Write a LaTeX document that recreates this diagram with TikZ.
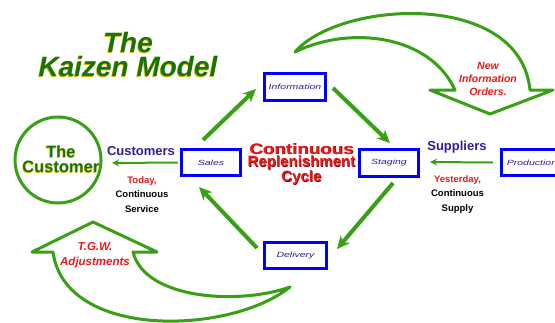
\documentclass[tikz,border=0pt]{standalone}
\usepackage{fontspec}
\setmainfont{Liberation Sans}
\usetikzlibrary{arrows.meta}

\definecolor{kgreen}{RGB}{55,160,20}
\definecolor{titlegreen}{RGB}{25,115,5}
\definecolor{shadowyellow}{RGB}{215,180,0}
\definecolor{kblue}{RGB}{0,0,255}
\definecolor{navy}{RGB}{45,30,150}
\definecolor{kred}{RGB}{235,25,25}
\definecolor{darkred}{RGB}{120,10,10}

% wide italic caption inside the process boxes
\newcommand{\boxtxt}[1]{\scalebox{1.4}[1]{#1}}

\begin{document}
\begin{tikzpicture}[x=1pt,y=-1pt,
  procbox/.style={draw=kblue, line width=3.2pt, fill=white, inner sep=0pt,
    font=\fontsize{7.5}{9}\selectfont\itshape, text=navy},
  cycarrow/.style={draw=kgreen, line width=4pt, -{Stealth[length=13pt,width=12pt]}},
  flowarrow/.style={draw=kgreen, line width=2pt, -{Stealth[length=7pt,width=7pt]}},
  blockarrow/.style={draw=kgreen, line width=3pt, fill=white, line join=round},
  titletext/.style={inner sep=0pt, align=center,
    font=\fontsize{28}{24}\selectfont\bfseries\itshape},
  custtext/.style={inner sep=0pt, align=center,
    font=\fontsize{16.5}{15}\selectfont\bfseries},
  grouplabel/.style={inner sep=0pt, text=navy, font=\fontsize{13}{15}\selectfont\bfseries},
  notetext/.style={inner sep=0pt, align=center, font=\fontsize{9.5}{14.5}\selectfont\bfseries},
  redlabel/.style={inner sep=0pt, align=center, text=kred, font=\bfseries\itshape},
  cycletext/.style={inner sep=0pt, align=center,
    font=\fontsize{15}{12.5}\selectfont\bfseries}
]
\useasboundingbox (0,0) rectangle (555,322);

% title with its yellow drop shadow
\node[titletext, text=shadowyellow] (titleshadow) at (127.3,55.5) {The\\Kaizen Model};
\node[titletext, text=titlegreen] (title) at (128,54.8) {The\\Kaizen Model};

% the customer
\node[draw=kgreen, line width=3pt, circle, minimum size=86pt, inner sep=0pt] (customer) at (58,160) {};
\node[custtext, text=shadowyellow] (custshadow) at (60.4,160.1) {The\\Customer};
\node[custtext, text=titlegreen] (custname) at (61,159.5) {The\\Customer};

% process boxes
\node[procbox, minimum width=59pt, minimum height=26pt] (sales) at (211,162.5) {\boxtxt{Sales}};
\node[procbox, minimum width=61pt, minimum height=27pt] (info) at (295,87) {\boxtxt{Information}};
\node[procbox, minimum width=59pt, minimum height=27pt] (staging) at (389,163) {\boxtxt{Staging}};
\node[procbox, minimum width=62pt, minimum height=26pt] (delivery) at (295.5,255.5) {\boxtxt{Delivery}};
\node[procbox, minimum width=61pt, minimum height=26pt] (prod) at (532,162.5) {\boxtxt{Production}};

% replenishment cycle
\coordinate (c1s) at (203,140);  \coordinate (c1e) at (256,89);
\coordinate (c2s) at (333,88);   \coordinate (c2e) at (390,143);
\coordinate (c3s) at (393,183);  \coordinate (c3e) at (337,249);
\coordinate (c4s) at (257,248);  \coordinate (c4e) at (199,187);
\draw[cycarrow] (c1s) -- (c1e);
\draw[cycarrow] (c2s) -- (c2e);
\draw[cycarrow] (c3s) -- (c3e);
\draw[cycarrow] (c4s) -- (c4e);

\node[cycletext, text=darkred] (cycleshadow) at (302.1,164.7)
  {\scalebox{1.25}[1]{Continuous}\\Replenishment\\Cycle};
\node[cycletext, text=kred] (cycle) at (301.5,164.1)
  {\scalebox{1.25}[1]{Continuous}\\Replenishment\\Cycle};

% flows to the customer and from production
\coordinate (custin) at (112,163);
\draw[flowarrow] ([xshift=-2pt]sales.west) -- (custin);
\coordinate (stagein) at (430,162);
\draw[flowarrow] ([xshift=-7pt]prod.west) -- (stagein);

\node[grouplabel] (customers) at (141,151) {Customers};
\node[notetext] (custnote) at (142,194.5) {{\color{kred}Today,}\\Continuous\\Service};
\node[grouplabel] (suppliers) at (457,147) {Suppliers};
\node[notetext] (supnote) at (457.5,194.5) {{\color{kred}Yesterday,}\\Continuous\\Supply};

% information feedback (top block arrow)
\draw[blockarrow] (295,52) .. controls (340,0) and (520,-10) .. (530,90)
  -- (553,90) -- (490,114) -- (430,90) -- (455,90)
  .. controls (430,35) and (350,25) .. (295,52) -- cycle;
\node[redlabel, font=\fontsize{10.5}{13}\selectfont\bfseries\itshape] (orders) at (488,79)
  {New\\Information\\Orders.};

% adjustments (bottom block arrow)
\draw[blockarrow] (53,252) .. controls (65,340) and (230,335) .. (290,287)
  .. controls (240,305) and (145,300) .. (133,252)
  -- (157,252) -- (93,222) -- (32,252) -- cycle;
\node[redlabel, font=\fontsize{11.5}{15}\selectfont\bfseries\itshape] (adjust) at (95,255.6)
  {T.G.W.\\Adjustments};
\end{tikzpicture}
\end{document}
